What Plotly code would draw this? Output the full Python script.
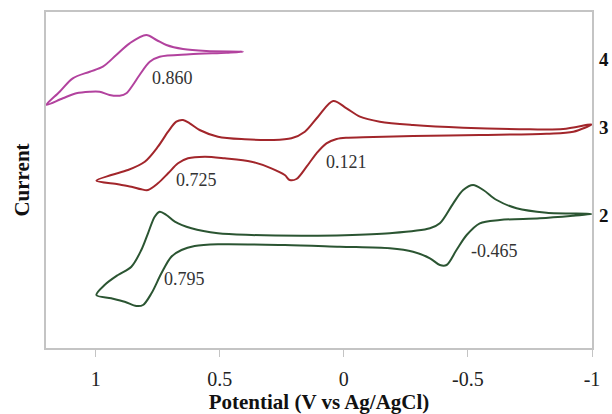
import plotly.graph_objects as go

# Cyclic voltammograms: potential (V vs Ag/AgCl) and current (arbitrary units, offset per compound)
v4 = [1.199, 1.145, 1.092, 1.024, 0.971, 0.917, 0.863, 0.796, 0.755, 0.715, 0.648, 0.554, 0.406,
      0.473, 0.621, 0.742, 0.782, 0.823, 0.850, 0.876, 0.903, 0.944, 0.984, 1.024, 1.078, 1.132, 1.199]
i4 = [24.30, 25.63, 26.97, 27.63, 28.13, 29.30, 30.47, 31.30, 30.80, 30.30, 29.90, 29.70, 29.63,
      29.53, 29.37, 29.13, 28.63, 27.30, 26.30, 25.47, 25.23, 25.30, 25.63, 25.63, 25.47, 24.97, 24.30]

v3 = [0.997, 0.937, 0.870, 0.802, 0.749, 0.708, 0.675, 0.648, 0.621, 0.581, 0.507, 0.399, 0.292,
      0.211, 0.157, 0.104, 0.043, -0.011, -0.065, -0.145, -0.279, -0.481, -0.750, -0.884, -0.999,
      -0.925, -0.817, -0.548, -0.279, -0.078, -0.011, 0.029, 0.070, 0.110, 0.150, 0.191, 0.218,
      0.238, 0.292, 0.372, 0.480, 0.560, 0.628, 0.668, 0.708, 0.749, 0.789, 0.816, 0.856, 0.910, 0.997]
i3 = [16.73, 17.30, 17.80, 18.63, 20.13, 21.63, 22.63, 22.80, 22.47, 21.80, 21.13, 20.87, 20.80,
      20.97, 21.63, 23.13, 24.70, 23.97, 23.13, 22.63, 22.30, 22.03, 21.87, 21.90, 22.37,
      21.63, 21.43, 21.30, 21.20, 21.07, 21.03, 20.90, 20.47, 19.47, 18.13, 16.90, 16.80,
      17.30, 17.97, 18.63, 18.97, 19.13, 18.97, 18.47, 17.47, 16.47, 15.80, 15.87, 16.13, 16.37, 16.73]

v2 = [0.997, 0.964, 0.910, 0.856, 0.816, 0.789, 0.762, 0.742, 0.715, 0.681, 0.614, 0.507, 0.372,
      0.171, -0.004, -0.185, -0.347, -0.387, -0.441, -0.481, -0.521, -0.562, -0.616, -0.696, -0.817,
      -0.999, -0.925, -0.790, -0.629, -0.548, -0.495, -0.454, -0.414, -0.387, -0.347, -0.279, -0.185,
      0.016, 0.238, 0.507, 0.601, 0.654, 0.695, 0.735, 0.775, 0.809, 0.836, 0.883, 0.937, 0.997]
i2 = [5.30, 6.30, 7.30, 8.13, 9.80, 11.47, 13.13, 13.63, 13.30, 12.63, 11.97, 11.47, 11.30,
      11.23, 11.27, 11.47, 11.97, 12.47, 14.47, 15.80, 16.30, 15.80, 14.80, 13.97, 13.53,
      13.40, 13.23, 12.97, 12.80, 12.47, 11.30, 9.80, 8.30, 8.30, 8.97, 9.63, 9.97,
      10.13, 10.30, 10.37, 10.20, 9.80, 9.13, 7.47, 5.47, 4.30, 4.20, 4.63, 4.97, 5.30]

series_names = ["4", "3", "2"]
series_colors = ["#b2429e", "#a2262b", "#2b5532"]

# E1/2 labels: text, potential, current position
e_labels = ["0.860", "0.725", "0.121", "0.795", "-0.465"]
e_label_v = [0.690, 0.593, -0.012, 0.641, -0.609]
e_label_i = [27.0, 16.8, 18.6, 6.9, 9.7]

# compound numbers at right edge: current level
num_label_i = [28.9, 22.1, 13.3]

tick_vals = [1, 0.5, 0, -0.5, -1]
tick_text = ["1", "0.5", "0", "-0.5", "-1"]

serif = "Liberation Serif, Times New Roman, serif"

fig = go.Figure()
for name, vx, iy, col in zip(series_names, [v4, v3, v2], [i4, i3, i2], series_colors):
    fig.add_trace(go.Scatter(x=vx, y=iy, mode="lines", name=name,
                             line=dict(color=col, width=2, shape="spline", smoothing=0.9),
                             showlegend=False, hoverinfo="skip"))

for t, xv, yv in zip(e_labels, e_label_v, e_label_i):
    fig.add_annotation(x=xv, y=yv, text=t, showarrow=False,
                       font=dict(family=serif, size=18, color="#333333"))

for t, yv in zip(series_names, num_label_i):
    fig.add_annotation(x=1.0, xref="paper", xanchor="center", xshift=12, y=yv, text="<b>%s</b>" % t,
                       showarrow=False, font=dict(family=serif, size=19, color="#111111"))

fig.update_layout(
    width=612, height=414,
    margin=dict(l=46, r=20, t=12, b=66, autoexpand=False),
    paper_bgcolor="white", plot_bgcolor="white",
    font=dict(family=serif, color="#222222"),
    xaxis=dict(range=[1.2, -1], tickvals=tick_vals, ticktext=tick_text, automargin=False,
               showgrid=False, zeroline=False, showline=True, mirror=True,
               linecolor="#c4c4c4", linewidth=1.5, ticks="outside", ticklen=7,
               tickcolor="#c4c4c4", tickfont=dict(family=serif, size=20, color="#222222"),
               ticklabelstandoff=5,
               title=dict(text="<b>Potential (V vs Ag/AgCl)</b>", standoff=4,
                          font=dict(family=serif, size=21, color="#111111"))),
    yaxis=dict(range=[0, 33.6], showticklabels=False, showgrid=False, zeroline=False,
               automargin=False,
               showline=True, mirror=True, linecolor="#c4c4c4", linewidth=1.5, ticks="",
               title=dict(text="<b>Current</b>", standoff=9,
                          font=dict(family=serif, size=21, color="#111111"))),
)

fig.write_html("out.html", config={"displayModeBar": False},
               post_script="document.body.style.margin='0px';document.body.style.overflow='hidden';")
